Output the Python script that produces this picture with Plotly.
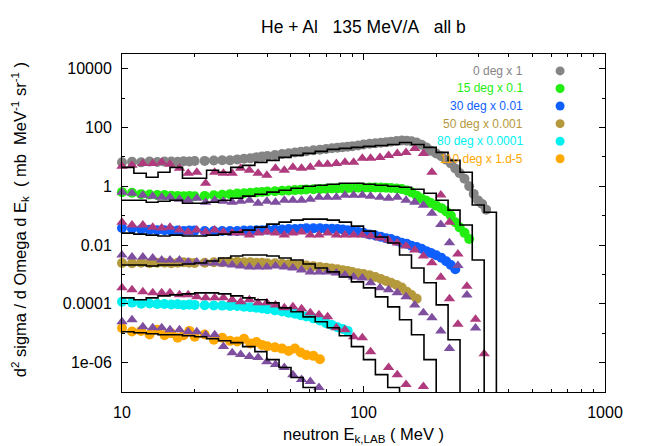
import plotly.graph_objects as go

# ---- measured spectra (circles), shared energy grid ----
E_CIRC = [10, 11, 12, 13, 14, 15, 16, 17, 18, 19, 20,
          22, 24, 26, 28, 30, 32, 34, 36, 38, 40,
          43, 46, 49, 52, 55, 58,
          62, 66, 70, 74, 78, 82, 86, 90,
          95, 100, 106, 112, 118, 124, 130,
          137, 144, 151, 158, 166, 174, 182, 190,
          200, 210, 220, 230, 240, 250, 262, 274, 286, 298, 310, 322]

deg0 = [6.6, 6.8, 6.5, 6.9, 6.7, 6.9, 7.0, 6.8, 7.1, 7.0, 7.2,
        7.3, 7.5, 7.7, 7.6, 8.2, 8.6, 8.9, 9.8, 10.2, 10.8,
        11.6, 12.6, 13.3, 14.0, 14.8, 15.6,
        16.8, 17.6, 18.6, 19.6, 20.6, 21.4, 22.0, 23.0,
        24.5, 26.5, 27.8, 29.0, 30.2, 31.5, 33.0,
        34.5, 36.0, 35.5, 34.0, 31.0, 26.0, 21.0, 16.0,
        13.0, 10.5, 8.0, 6.0, 4.0, 2.8, 1.8, 1.0, 0.55, 0.33, 0.25, 0.16]
deg15 = [0.63, 0.60, 0.54, 0.52, 0.50, 0.50, 0.48, 0.47, 0.46, 0.47, 0.46,
         0.47, 0.49, 0.51, 0.54, 0.57, 0.58, 0.60, 0.62, 0.64, 0.66,
         0.68, 0.70, 0.72, 0.74, 0.76, 0.78,
         0.79, 0.80, 0.82, 0.84, 0.85, 0.86, 0.88, 0.88,
         0.90, 0.89, 0.90, 0.91, 0.90, 0.89, 0.88,
         0.84, 0.80, 0.72, 0.62, 0.48, 0.38, 0.32, 0.27,
         0.22, 0.18, 0.14, 0.10, 0.06, 0.040, 0.026, 0.016]
deg30 = [0.038, 0.036, 0.034, 0.033, 0.032, 0.032, 0.031, 0.031, 0.030, 0.031, 0.031,
         0.030, 0.030, 0.030, 0.030, 0.030, 0.031, 0.031, 0.032, 0.032, 0.033,
         0.034, 0.034, 0.035, 0.035, 0.036, 0.037,
         0.037, 0.037, 0.036, 0.036, 0.035, 0.034, 0.032, 0.030,
         0.028, 0.026, 0.023, 0.021, 0.019, 0.017, 0.016,
         0.014, 0.012, 0.011, 0.0095, 0.0085, 0.0075, 0.0062, 0.0054,
         0.0045, 0.0037, 0.0028, 0.0021, 0.0015]
deg50 = [0.00245, 0.0024, 0.0025, 0.0024, 0.0025, 0.0025, 0.0024, 0.0025, 0.0026, 0.0025, 0.00245,
         0.0025, 0.0026, 0.0026, 0.0027, 0.0027, 0.0026, 0.0026, 0.0025, 0.0025, 0.0024,
         0.0024, 0.0023, 0.0022, 0.0021, 0.0021, 0.0020,
         0.0019, 0.0018, 0.0017, 0.0016, 0.0015, 0.0014, 0.0013, 0.0012,
         0.0011, 0.00104, 0.00093, 0.00082, 0.00070, 0.00060, 0.00052,
         0.00044, 0.00036, 0.00026, 0.00020, 0.00015]
deg80 = [1.17e-4, 1.1e-4, 1.0e-4, 1.02e-4, 9.8e-5, 9.9e-5, 9.5e-5, 9.7e-5, 9.2e-5, 9.4e-5, 9.2e-5,
         9.0e-5, 8.8e-5, 8.7e-5, 8.5e-5, 8.5e-5, 8.0e-5, 7.6e-5, 7.4e-5, 7.0e-5, 6.6e-5,
         6.0e-5, 5.5e-5, 5.0e-5, 4.6e-5, 4.1e-5, 3.7e-5,
         3.2e-5, 2.7e-5, 2.2e-5, 1.9e-5, 1.6e-5, 1.4e-5, 1.2e-5]
deg110 = [1.5e-5, 1.15e-5, 1.2e-5, 9.0e-6, 1.3e-5, 8.5e-6, 1.0e-5, 7.0e-6, 8.5e-6, 1.2e-5, 7.6e-6,
          9.0e-6, 6.0e-6, 7.0e-6, 5.5e-6, 5.2e-6, 6.5e-6, 4.5e-6, 5.0e-6, 4.0e-6, 3.6e-6,
          3.3e-6, 3.0e-6, 2.5e-6, 3.0e-6, 2.2e-6, 1.8e-6,
          1.7e-6, 1.3e-6]

# ---- second data set (triangles) ----
E_TRI = [10, 11, 12.2, 13.4, 14.6, 15.8, 17.3, 18.8, 20.4, 22.2, 24.2, 26.3, 28.6, 31,
         33.7, 36.6, 39.8, 43.2, 47, 51, 55.4, 60.2, 65.4, 71, 77.2, 83.8, 91, 98.9,
         107, 117, 127, 138, 150, 163, 177, 192, 209, 227, 246, 268, 291, 316, 343]

tri0 = [4.75, 5.15, 6.0, 6.0, 6.5, 5.6, 4.1, 2.76, 3.0, 1.26, 3.0, 2.76, 2.76, 4.1,
        3.5, 2.76, 2.36, 4.1, 3.5, 4.4, 4.1, 4.4, 5.6, 5.6, 6.0, 6.5, 6.5, 8.9,
        8.9, 9.6, 11.2, 13.1, 14.2, 19.4, 13.1, 3.0, 0.5, 0.06, 0.005, 4e-4, 3e-5, 2e-6]
tri15 = [0.63, 0.58, 0.495, 0.46, 0.42, 0.42, 0.36, 0.335, 0.39, 0.287, 0.335, 0.31, 0.287, 0.31,
         0.335, 0.265, 0.31, 0.287, 0.335, 0.335, 0.335, 0.36, 0.42, 0.42, 0.42, 0.495, 0.495, 0.495,
         0.46, 0.42, 0.39, 0.42, 0.335, 0.287, 0.227, 0.12, 0.05, 0.012, 0.002, 2e-4, 1.5e-5]
tri30 = [0.060, 0.0477, 0.0477, 0.0407, 0.0377, 0.0407, 0.0322, 0.0276, 0.0322, 0.0276, 0.0322, 0.0276,
         0.0255, 0.0255, 0.0218, 0.0255, 0.0276, 0.0255, 0.0218, 0.0255, 0.0276, 0.0218, 0.0218, 0.0255,
         0.0218, 0.0218, 0.0218, 0.0218, 0.0202, 0.0173, 0.0148, 0.0117, 0.0092, 0.0068, 0.0042,
         0.0025, 8e-4, 1.5e-4, 2e-5]
tri50 = [0.00458, 0.00392, 0.00392, 0.00362, 0.0031, 0.0031, 0.0031, 0.00265, 0.00265, 0.00245,
         0.00245, 0.00227, 0.0021, 0.00194, 0.0018, 0.0018, 0.0018, 0.00194, 0.0018, 0.00166,
         0.00142, 0.00122, 0.00122, 0.00122, 0.00112, 0.00096, 0.00082, 0.00076, 0.00052, 0.00035,
         0.0003, 0.000236, 0.000173, 9.2e-5, 4.95e-5, 3.35e-5, 1.2e-5, 3e-6]
tri80 = [0.00035, 0.0003, 0.00026, 0.000236, 0.000236, 0.000236, 0.000202, 0.000202, 0.000173,
         0.00016, 0.00016, 0.00016, 0.000137, 0.000117, 0.000137, 0.000108, 0.000108, 9.2e-5,
         7.3e-5, 7.9e-5, 6.8e-5, 4.95e-5, 4.24e-5, 3.6e-5, 1.53e-5, 1.32e-5, 7.6e-6, 7.0e-6,
         2.36e-6, None, 6.8e-7, 3.9e-7, 1.8e-7, None, 1.53e-7]
tri110 = [2.45e-5, 2.87e-5, 1.66e-5, 1.53e-5, 1.53e-5, 1.32e-5, 1.32e-5, 1.12e-5, 1.12e-5,
          8.9e-6, 8.9e-6, 3.5e-6, 2.18e-6, 1.87e-6, 1.6e-6, 1.48e-6, 1.08e-6, 8.6e-7,
          6.8e-7, 3.9e-7, 2.65e-7, 2.27e-7, 1.42e-7]

# ---- model histograms (black steps) ----
H_EDGES = [10, 11.2, 12.6, 14.1, 15.8, 17.8, 20, 22.4, 25.1, 28.2, 31.6, 35.5, 39.8, 44.7,
           50.1, 56.2, 63.1, 70.8, 79.4, 89.1, 100, 112, 126, 141, 158, 178, 200, 224,
           251, 282, 316, 355, 398]

h0 = [4.4, 2.76, 2.02, 3.0, 4.4, 1.87, 1.87, 3.5, 3.0, 4.4, 5.15, 6.5, 7.6, 9.6, 11.2,
      13.1, 15.4, 18.0, 19.4, 21.0, 22.7, 24.5, 26.5, 31.0, 26.5, 21.0, 14.2, 7.6, 3.0,
      0.23, 0.13, 1e-9]
h15 = [0.335, 0.335, 0.287, 0.31, 0.335, 0.265, 0.265, 0.287, 0.335, 0.39, 0.46, 0.535,
       0.63, 0.73, 0.855, 1.0, 1.08, 1.17, 1.26, 1.26, 1.17, 1.08, 1.0, 0.925, 0.79, 0.58,
       0.335, 0.154, 0.048, 0.0031, 1e-9]
h30 = [0.0255, 0.0236, 0.0218, 0.0202, 0.0218, 0.0202, 0.0202, 0.0218, 0.0236, 0.0276,
       0.0322, 0.0407, 0.0515, 0.060, 0.0704, 0.076, 0.076, 0.0704, 0.060, 0.044, 0.0298,
       0.0187, 0.0117, 0.00458, 0.00166, 0.00052, 9.2e-5, 6.0e-6, 1e-9]
h50 = [0.0021, 0.0021, 0.00194, 0.0021, 0.0021, 0.00227, 0.00245, 0.00287, 0.00362,
       0.00424, 0.00458, 0.00458, 0.00424, 0.00362, 0.0031, 0.00227, 0.00166, 0.00122,
       0.00082, 0.000557, 0.00035, 0.000173, 7.9e-5, 2.87e-5, 8.9e-6, 1.26e-6, 1e-9]
h80 = [0.00016, 0.000137, 0.00016, 0.000187, 0.000202, 0.000218, 0.000236, 0.000236,
       0.000218, 0.000187, 0.00016, 0.000137, 0.000108, 7.3e-5, 5.36e-5, 3.6e-5, 2.45e-5,
       1.53e-5, 8.2e-6, 3.5e-6, 1.26e-6, 3.9e-7, 1.42e-7, 1e-9]
h110 = [1.12e-5, 1.04e-5, 9.6e-6, 8.9e-6, 8.9e-6, 8.2e-6, 7.6e-6, 6.5e-6, 5.57e-6, 4.77e-6,
        3.5e-6, 2.36e-6, 1.26e-6, 6.8e-7, 3.1e-7, 1.42e-7, 1e-9]

LABELS = ["0 deg x 1", "15 deg x 0.1", "30 deg x 0.01",
          "50 deg x 0.001", "80 deg x 0.0001", "110 deg x 1.d-5"]
COLORS = ["#858585", "#22ee11", "#0f5fff", "#b5993d", "#00f0f0", "#ffa800"]
TRI_COLORS = ["#b03a7e", "#7f4f9f", "#b03a7e", "#7f4f9f", "#b03a7e", "#7f4f9f"]

circles = [deg0, deg15, deg30, deg50, deg80, deg110]
triangles = [tri0, tri15, tri30, tri50, tri80, tri110]
hists = [h0, h15, h30, h50, h80, h110]

FONT = "Liberation Sans, Arial, sans-serif"

fig = go.Figure()

for vals, col in zip(circles, COLORS):
    fig.add_trace(go.Scatter(
        x=E_CIRC[:len(vals)], y=vals, mode="markers", cliponaxis=False,
        marker=dict(symbol="circle", size=10, color=col, line=dict(width=0)),
        showlegend=False))

for vals, col in zip(triangles, TRI_COLORS):
    fig.add_trace(go.Scatter(
        x=E_TRI[:len(vals)], y=vals, mode="markers", cliponaxis=False,
        marker=dict(symbol="triangle-up", size=10, color=col, line=dict(width=0)),
        showlegend=False))

for vals in hists:
    fig.add_trace(go.Scatter(
        x=H_EDGES[:len(vals) + 1], y=vals + [vals[-1]], mode="lines",
        line=dict(color="black", width=1.6, shape="hv"),
        showlegend=False))

# key: coloured text, dot to the right
annotations = []
shapes = []
for i, (lab, col) in enumerate(zip(LABELS, COLORS)):
    yk = 0.95 - i * 0.052
    annotations.append(dict(
        x=0.834, y=yk, xref="paper", yref="paper", text=lab, showarrow=False,
        xanchor="right", yanchor="middle", font=dict(size=12, color=col, family=FONT)))
    shapes.append(dict(
        type="circle", xref="paper", yref="paper", xsizemode="pixel", ysizemode="pixel",
        xanchor=0.907, yanchor=yk, x0=-4.5, x1=4.5, y0=-4.5, y1=4.5,
        fillcolor=col, line=dict(width=0)))

annotations += [
    dict(x=0.5, y=1.08, xref="paper", yref="paper", showarrow=False,
         text="He + Al\u00a0\u00a0\u00a0135 MeV/A\u00a0\u00a0\u00a0all b",
         xanchor="center", yanchor="middle", font=dict(size=17.5, color="black", family=FONT)),
    dict(x=0.5, y=-0.127, xref="paper", yref="paper", showarrow=False,
         text="neutron E<sub>k,LAB</sub> ( MeV )",
         xanchor="center", yanchor="middle", font=dict(size=16.5, color="black", family=FONT)),
    dict(x=-0.212, y=0.51, xref="paper", yref="paper", showarrow=False, textangle=-90,
         text="d<sup>2</sup> sigma / d Omega d E<sub>k</sub>\u00a0\u00a0( mb\u00a0\u00a0MeV<sup>-1</sup> sr<sup>-1</sup> )",
         xanchor="center", yanchor="middle", font=dict(size=16.5, color="black", family=FONT)),
]

axis_common = dict(
    type="log", showline=True, linecolor="black", linewidth=1, mirror="ticks",
    ticks="inside", ticklen=6, tickwidth=1, tickcolor="black", showgrid=False,
    zeroline=False, tickfont=dict(size=16, color="black", family=FONT),
)

# the page body adds an 8 px offset, so the figure is 8 px smaller and margins shifted
fig.update_layout(
    width=656, height=438,
    margin=dict(l=114, r=59, t=46, b=54),
    paper_bgcolor="white", plot_bgcolor="white",
    annotations=annotations, shapes=shapes,
    xaxis=dict(axis_common, range=[1, 3],
               tickvals=[10, 100, 1000], ticktext=["10", "100", "1000"],
               ticklabelstandoff=6,
               minor=dict(tickvals=[20, 30, 40, 50, 60, 70, 80, 90,
                                    200, 300, 400, 500, 600, 700, 800, 900],
                          ticks="inside", ticklen=3, tickcolor="black", showgrid=False)),
    yaxis=dict(axis_common, range=[-7, 4.5],
               tickvals=[1e4, 1e2, 1, 1e-2, 1e-4, 1e-6],
               ticktext=["10000", "100", "1", "0.01", "0.0001", "1e-06"],
               ticklabelstandoff=6,
               minor=dict(tickvals=[1e3, 1e1, 1e-1, 1e-3, 1e-5, 1e-7],
                          ticks="inside", ticklen=3, tickcolor="black", showgrid=False)),
)

fig.write_html("out.html")
